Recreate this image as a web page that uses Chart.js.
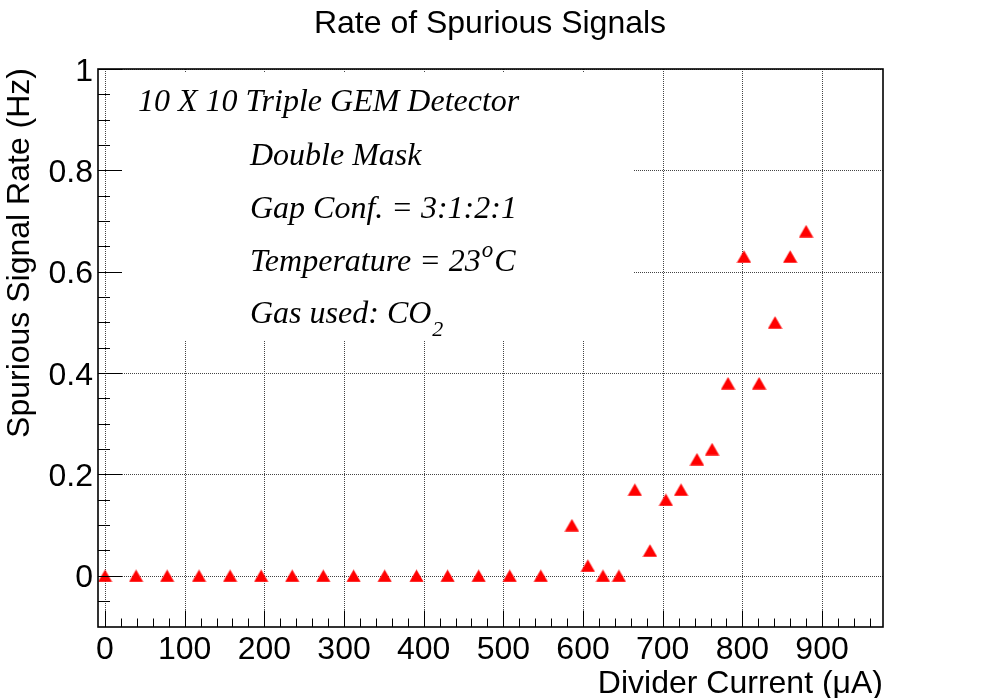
<!DOCTYPE html>
<html><head><meta charset="utf-8">
<script src="https://cdn.jsdelivr.net/npm/chart.js@4.4.0/dist/chart.umd.min.js"></script>
<style>html,body{margin:0;padding:0;background:#fff;}canvas{display:block;}</style>
</head><body>
<canvas id="c" width="984" height="698"></canvas>
<script>
// ---- data ----
const dividerCurrent = [0, 39, 78, 118, 157, 196, 235, 274, 312, 351, 391, 430, 469, 508, 547,
  586, 606, 625, 645, 665, 684, 704, 723, 743, 762, 782, 802, 821, 841, 860, 880];
const spuriousRate = [0, 0, 0, 0, 0, 0, 0, 0, 0, 0, 0, 0, 0, 0, 0,
  0.10, 0.02, 0, 0, 0.17, 0.05, 0.15, 0.17, 0.23, 0.25, 0.38, 0.63, 0.38, 0.50, 0.63, 0.68];
const xTickValues = [0, 100, 200, 300, 400, 500, 600, 700, 800, 900];
const xTickLabels = ['0', '100', '200', '300', '400', '500', '600', '700', '800', '900'];
const yTickValues = [0, 0.2, 0.4, 0.6, 0.8, 1];
const yTickLabels = ['0', '0.2', '0.4', '0.6', '0.8', '1'];
const chartTitle = 'Rate of Spurious Signals';
const xTitle = 'Divider Current (\u03bcA)';
const yTitle = 'Spurious Signal Rate (Hz)';
const paveLine1 = '10 X 10 Triple GEM Detector';
const paveLine2 = 'Double Mask';
const paveLine3 = 'Gap Conf. = 3:1:2:1';
const paveLine4 = ['Temperature = 23', 'o', 'C'];
const paveLine5 = ['Gas used: CO', '2'];

// ---- styles ----
const SANS = '"Liberation Sans", Arial, Helvetica, sans-serif';
const SERIF = '"Liberation Serif", "Times New Roman", Times, serif';

const tri = document.createElement('canvas');
tri.width = 15; tri.height = 13;
(function(){ const g = tri.getContext('2d'); g.fillStyle = '#ff0000';
  g.beginPath(); g.moveTo(0.3, 12.8); g.lineTo(14.7, 12.8); g.lineTo(7.5, 0.2); g.closePath(); g.fill(); })();

function sText(ctx, text, x, y, align) {
  ctx.textAlign = align; ctx.fillText(text, x, y);
}
function seg(ctx, x1, y1, x2, y2) { ctx.beginPath(); ctx.moveTo(x1, y1); ctx.lineTo(x2, y2); ctx.stroke(); }

const rootPlugin = {
  id: 'rootStyle',
  beforeDatasetsDraw(chart) {
    const ctx = chart.ctx, xs = chart.scales.x, ys = chart.scales.y, a = chart.chartArea;
    ctx.save();
    ctx.strokeStyle = '#444'; ctx.lineWidth = 1; ctx.setLineDash([1, 1]);
    xTickValues.forEach(v => { const p = Math.round(xs.getPixelForValue(v)) + 0.5; seg(ctx, p, a.top, p, a.bottom); });
    yTickValues.forEach(v => { const p = Math.round(ys.getPixelForValue(v)) + 0.5; seg(ctx, a.left, p, a.right, p); });
    ctx.setLineDash([]);
    // text pave (white box hiding the grid)
    ctx.fillStyle = '#fff';
    ctx.fillRect(122, 72, 633 - 122, 340 - 72);
    ctx.restore();
  },
  afterDatasetsDraw(chart) {
    const ctx = chart.ctx, xs = chart.scales.x, ys = chart.scales.y, a = chart.chartArea;
    ctx.save();
    ctx.strokeStyle = '#000'; ctx.lineWidth = 1;
    for (let v = 0; v <= 960; v += 20) {
      const p = Math.round(xs.getPixelForValue(v)) + 0.5;
      const L = (v % 100 === 0) ? 16.5 : 8.5;
      seg(ctx, p, a.bottom, p, a.bottom - L);
    }
    for (let i = -1; i <= 20; i++) {
      const v = i * 0.05;
      const p = Math.round(ys.getPixelForValue(v)) + 0.5;
      if (p < a.top || p > a.bottom) continue;
      const L = (i % 4 === 0) ? 24 : 12;
      seg(ctx, a.left, p, a.left + L, p);
    }
    ctx.lineWidth = 1.6;
    ctx.strokeRect(a.left, a.top, a.right - a.left, a.bottom - a.top);
    ctx.restore();
  },
  afterDraw(chart) {
    const ctx = chart.ctx, xs = chart.scales.x, ys = chart.scales.y;
    ctx.save();
    ctx.fillStyle = '#000';
    ctx.textBaseline = 'alphabetic';
    ctx.font = '32px ' + SANS;
    sText(ctx, chartTitle, 490, 33, 'center');
    xTickValues.forEach((v, i) => sText(ctx, xTickLabels[i], xs.getPixelForValue(v), 659, 'center'));
    yTickValues.forEach((v, i) => sText(ctx, yTickLabels[i], 93, ys.getPixelForValue(v) + 11.5, 'right'));
    sText(ctx, xTitle, 883, 693, 'right');
    ctx.save();
    ctx.translate(29, 68); ctx.rotate(-Math.PI / 2);
    sText(ctx, yTitle, 0, 0, 'right');
    ctx.restore();
    // pave text
    ctx.font = 'italic 32px ' + SERIF;
    sText(ctx, paveLine1, 138, 111, 'left');
    sText(ctx, paveLine2, 250, 164.5, 'left');
    sText(ctx, paveLine3, 250, 218, 'left');
    let x = 250;
    sText(ctx, paveLine4[0], x, 271, 'left');
    x += ctx.measureText(paveLine4[0]).width + 1;
    ctx.font = 'italic 23px ' + SERIF;
    sText(ctx, paveLine4[1], x, 257, 'left');
    x += ctx.measureText(paveLine4[1]).width + 1;
    ctx.font = 'italic 32px ' + SERIF;
    sText(ctx, paveLine4[2], x, 271, 'left');
    x = 250;
    sText(ctx, paveLine5[0], x, 323, 'left');
    x += ctx.measureText(paveLine5[0]).width + 1;
    ctx.font = 'italic 22px ' + SERIF;
    sText(ctx, paveLine5[1], x, 336, 'left');
    ctx.restore();
  }
};

new Chart(document.getElementById('c'), {
  type: 'scatter',
  data: {
    datasets: [{
      label: 'Spurious signal rate',
      data: dividerCurrent.map((c, i) => ({ x: c, y: spuriousRate[i] })),
      pointStyle: tri,
      backgroundColor: '#ff0000',
      borderColor: '#ff0000',
      pointRadius: 7,
      pointHoverRadius: 7
    }]
  },
  options: {
    responsive: false,
    animation: false,
    devicePixelRatio: 1,
    layout: { padding: { left: 0, top: 69, right: 101, bottom: 0 } },
    plugins: { legend: { display: false }, title: { display: false }, tooltip: { enabled: false } },
    events: [],
    scales: {
      x: {
        type: 'linear', min: -8.8, max: 976.5,
        grid: { display: false }, border: { display: false }, ticks: { display: false },
        afterFit: s => { s.height = 71; }
      },
      y: {
        type: 'linear', min: -0.101, max: 1.0,
        grid: { display: false }, border: { display: false }, ticks: { display: false },
        afterFit: s => { s.width = 98; }
      }
    }
  },
  plugins: [rootPlugin]
});
</script>
</body></html>
